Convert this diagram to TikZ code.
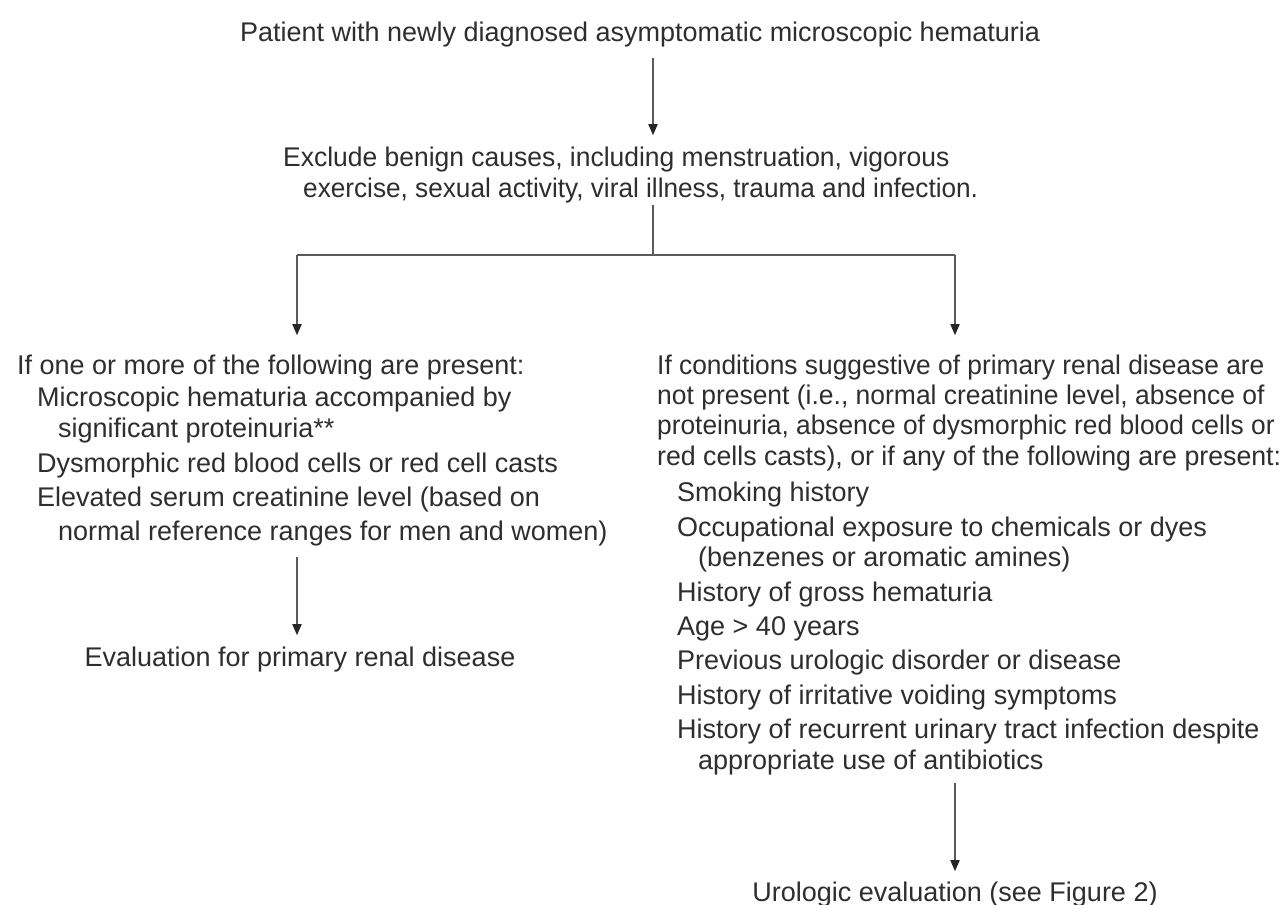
\documentclass[tikz,border=0pt]{standalone}
\usepackage{fontspec}
\usepackage{graphicx}
\setmainfont{Liberation Sans}
\usetikzlibrary{arrows.meta,calc}
\definecolor{txtcol}{HTML}{2E2E2E}
\definecolor{linecol}{HTML}{5A5A5A}
\definecolor{tipcol}{HTML}{262626}
\tikzset{
  txt/.style={anchor=base west, inner sep=0pt, font=\fontsize{27}{30}\selectfont, text=txtcol},
  ctxt/.style={anchor=base, inner sep=0pt, font=\fontsize{27}{30}\selectfont, text=txtcol},
  conn/.style={draw=linecol, line width=1.6pt},
  arr/.style={conn, -{Triangle[width=9pt,length=11pt,color=tipcol,fill=tipcol]}}
}
\begin{document}
\begin{tikzpicture}[x=1pt,y=-1pt]
\useasboundingbox[fill=white] (0,0) rectangle (1288,905);
% title and exclusion
\node[ctxt] (title) at (640,41) {Patient with newly diagnosed asymptomatic microscopic hematuria};
\node[txt] (excl1) at (283,166) {\scalebox{0.98}[1]{Exclude benign causes, including menstruation, vigorous}};
\node[txt] (excl2) at (303,197) {\scalebox{0.97}[1]{exercise, sexual activity, viral illness, trauma and infection.}};
% junction coordinates
\coordinate (jc) at (653,255);
\coordinate (jl) at (297,255);
\coordinate (jr) at (955,255);
% left block
\node[txt] (L1) at (17,374) {If one or more of the following are present:};
\node[txt] (L2) at (37,406) {Microscopic hematuria accompanied by};
\node[txt] (L3) at (58,437) {significant proteinuria**};
\node[txt] (L4) at (37,472) {Dysmorphic red blood cells or red cell casts};
\node[txt] (L5) at (37,506) {Elevated serum creatinine level (based on};
\node[txt] (L6) at (58,540) {normal reference ranges for men and women)};
\node[ctxt] (eval) at (300,666) {Evaluation for primary renal disease};
% right block
\node[txt] (R1) at (657,374) {\scalebox{0.975}[1]{If conditions suggestive of primary renal disease are}};
\node[txt] (R2) at (657,404) {\scalebox{0.98}[1]{not present (i.e., normal creatinine level, absence of}};
\node[txt] (R3) at (657,434) {\scalebox{0.975}[1]{proteinuria, absence of dysmorphic red blood cells or}};
\node[txt] (R4) at (657,465) {\scalebox{0.99}[1]{red cells casts), or if any of the following are present:}};
\node[txt] (R5) at (677,501) {Smoking history};
\node[txt] (R6) at (677,536) {Occupational exposure to chemicals or dyes};
\node[txt] (R7) at (698,566) {(benzenes or aromatic amines)};
\node[txt] (R8) at (677,601) {History of gross hematuria};
\node[txt] (R9) at (677,635) {Age > 40 years};
\node[txt] (R10) at (677,669) {Previous urologic disorder or disease};
\node[txt] (R11) at (677,704) {History of irritative voiding symptoms};
\node[txt] (R12) at (677,738) {History of recurrent urinary tract infection despite};
\node[txt] (R13) at (698,769) {appropriate use of antibiotics};
\node[ctxt] (uro) at (955,901) {Urologic evaluation (see Figure 2)};
% connectors
\draw[arr] ([yshift=-11pt]title.south -| jc) -- ([yshift=11pt]excl1.north -| jc);
\draw[conn] ([yshift=-2pt]excl2.south -| jc) -- (jc);
\draw[conn] (jl) -- (jr);
\draw[arr] (jl) -- ([yshift=19pt]L1.north -| jl);
\draw[arr] (jr) -- ([yshift=19pt]R1.north -| jr);
\draw[arr] ([yshift=-11pt]L6.south -| jl) -- ([yshift=11pt]eval.north -| jl);
\draw[arr] ([yshift=-8pt]R13.south -| jr) -- ([yshift=10pt]uro.north -| jr);
\end{tikzpicture}
\end{document}
